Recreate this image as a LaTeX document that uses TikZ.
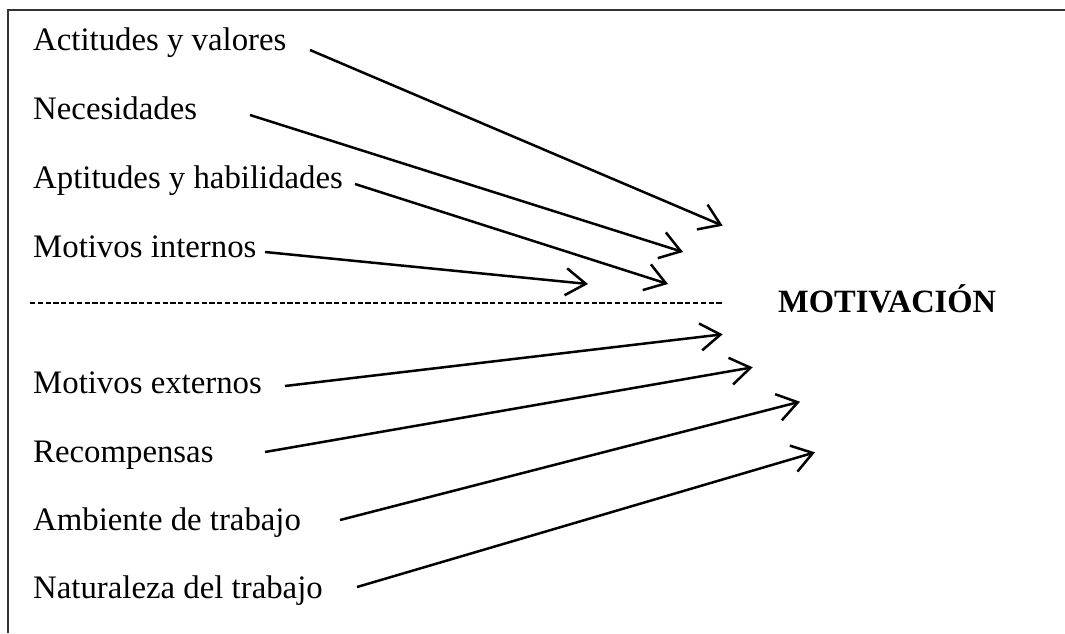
\documentclass[tikz,border=0pt]{standalone}
\usepackage{fontspec}
\setmainfont{Liberation Serif}
\usetikzlibrary{arrows.meta}
\begin{document}
\begin{tikzpicture}[x=1pt,y=-1pt,
  label/.style={anchor=base west,inner sep=0pt,font=\fontsize{32.8}{38}\selectfont},
  title/.style={anchor=base west,inner sep=0pt,font=\fontsize{32.5}{38}\selectfont\bfseries},
  link/.style={line width=2.5pt,-{Straight Barb[length=20pt,width=27pt,line width=2.5pt]}},
  frame/.style={line width=2pt,draw=black!80},
  divider/.style={line width=2.6pt,dash pattern=on 5.2pt off 2.6pt}]
\useasboundingbox (0,0) rectangle (1065,633);

% open frame (top and left edges)
\draw[frame] (8,633) -- (8,10) -- (1065,10);

% internal factors
\node[label] (a1) at (33,50)  {Actitudes y valores};
\node[label] (a2) at (33,119) {Necesidades};
\node[label] (a3) at (33,188) {Aptitudes y habilidades};
\node[label] (a4) at (33,257) {Motivos internos};

% external factors
\node[label] (b1) at (33,393) {Motivos externos};
\node[label] (b2) at (33,462) {Recompensas};
\node[label] (b3) at (33,530) {Ambiente de trabajo};
\node[label] (b4) at (33,598) {Naturaleza del trabajo};

\node[title] (m) at (778,312) {MOTIVACIÓN};

% separator between internal and external factors
\coordinate (d0) at (30,303);
\coordinate (d1) at (724,303);
\draw[divider] (d0) -- (d1);

% arrow end points
\coordinate (s1) at (310,50);   \coordinate (e1) at (722.7,225.7);
\coordinate (s2) at (250,115);  \coordinate (e2) at (683,252);
\coordinate (s3) at (355,184);  \coordinate (e3) at (668,284);
\coordinate (s4) at (265,252);  \coordinate (e4) at (588,284);
\coordinate (s5) at (285,386);  \coordinate (e5) at (722.7,334.3);
\coordinate (s6) at (265,452);  \coordinate (e6) at (752.7,367.3);
\coordinate (s7) at (340,520);  \coordinate (e7) at (800,401.7);
\coordinate (s8) at (357,587);  \coordinate (e8) at (815,452.3);

\foreach \i in {1,...,8}{
  \draw[link] (s\i) -- (e\i);
}
\end{tikzpicture}
\end{document}
